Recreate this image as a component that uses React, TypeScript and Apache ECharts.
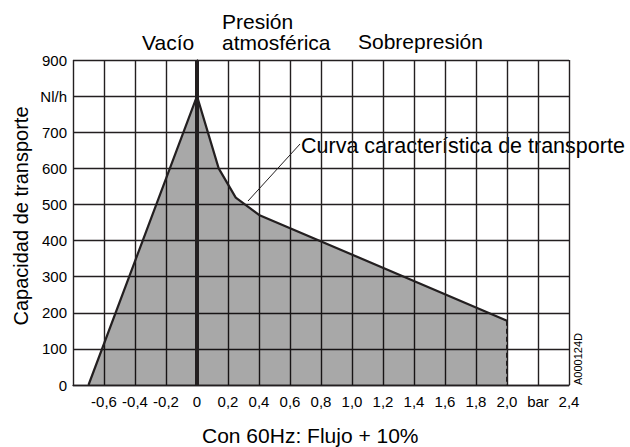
import React, { useEffect, useRef } from "react";
import * as echarts from "echarts";

const curveX = [-0.7, 0, 0.14, 0.25, 0.4, 2.0];
const curveY = [0, 800, 600, 519, 471, 178];
const endX = [2.0, 2.0];
const endY = [178, 0];
const zeroLineX = [0, 0];
const zeroLineY = [0, 900];
const xLabelMap: Record<string, string> = { "-0.8": "", "2.2": "bar" };
const yLabelMap: Record<string, string> = { "800": "Nl/h" };

const FONT = "Liberation Sans, Arial, sans-serif";
const DARK = "#231f20";

export default function App() {
  const ref = useRef<HTMLDivElement>(null);
  useEffect(() => {
    if (!ref.current) return;
    const chart = echarts.init(ref.current, undefined, { renderer: "svg" });
    const fmtX = (v: number) => {
      const k = (Math.round(v * 10) / 10).toFixed(1);
      if (k in xLabelMap) return xLabelMap[k];
      if (k === "0.0" || k === "-0.0") return "0";
      return k.replace(".", ",");
    };
    const t = (text: string, x: number, y: number, size = 21) => ({
      type: "text",
      x,
      y,
      style: { text, font: `${size}px ${FONT}`, fill: "#000", verticalAlign: "middle" },
    });
    chart.setOption({
      animation: false,
      grid: { left: 73, right: 61, top: 60, bottom: 62, containLabel: false, outerBoundsMode: "none" },
      xAxis: {
        type: "value",
        min: -0.8,
        max: 2.4,
        interval: 0.2,
        axisLine: { show: true, lineStyle: { color: DARK, width: 1.4 } },
        axisTick: { show: false },
        splitLine: { show: true, lineStyle: { color: DARK, width: 1.4 } },
        axisLabel: { formatter: fmtX, color: "#000", fontSize: 15, fontFamily: FONT, margin: 9 },
      },
      yAxis: {
        type: "value",
        min: 0,
        max: 900,
        interval: 100,
        axisLine: { show: true, lineStyle: { color: DARK, width: 1.4 } },
        axisTick: { show: false },
        splitLine: { show: true, lineStyle: { color: DARK, width: 1.4 } },
        axisLabel: {
          formatter: (v: number) => yLabelMap[String(v)] ?? String(v),
          color: "#000",
          fontSize: 15,
          fontFamily: FONT,
          margin: 6,
        },
      },
      series: [
        {
          type: "line",
          data: curveX.map((x, i) => [x, curveY[i]]),
          symbol: "none",
          lineStyle: { color: DARK, width: 2.2 },
          areaStyle: { color: "rgba(0,0,0,0.34)", opacity: 1, origin: "start" },
          z: 3,
        },
        {
          type: "line",
          data: endX.map((x, i) => [x, endY[i]]),
          symbol: "none",
          lineStyle: { color: DARK, width: 2, type: [5, 3] },
          z: 4,
        },
        {
          type: "line",
          data: zeroLineX.map((x, i) => [x, zeroLineY[i]]),
          symbol: "none",
          lineStyle: { color: DARK, width: 4 },
          z: 5,
        },
      ],
      graphic: [
        t("Vacío", 142, 42),
        t("Presión", 222, 21),
        t("atmosférica", 222, 42),
        t("Sobrepresión", 358, 41),
        t("Curva característica de transporte", 301, 146, 21.5),
        { type: "line", shape: { x1: 248, y1: 201, x2: 300, y2: 144 }, style: { stroke: DARK, lineWidth: 1 } },
        t("Con 60Hz: Flujo + 10%", 202, 435),
        {
          type: "text",
          x: 21,
          y: 216,
          rotation: Math.PI / 2,
          style: { text: "Capacidad de transporte", font: `20px ${FONT}`, fill: "#000", align: "center", verticalAlign: "middle" },
        },
        {
          type: "text",
          x: 577.5,
          y: 359,
          rotation: Math.PI / 2,
          style: { text: "A000124D", font: `11px ${FONT}`, fill: "#000", align: "center", verticalAlign: "middle" },
        },
      ],
    });
    return () => chart.dispose();
  }, []);
  return <div ref={ref} style={{ width: 630, height: 447, position: "absolute", left: 0, top: 0 }} />;
}
